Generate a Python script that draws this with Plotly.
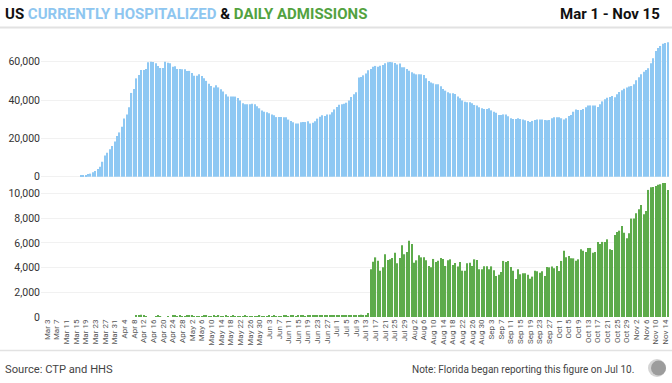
import pandas as pd
import plotly.graph_objects as go

# ---------------- data ----------------
dates = pd.date_range("2020-03-01", "2020-11-15", freq="D")

hospitalized = [None] * 16 + [
    700, 800, 900, 1400, 1600, 2300, 3000, 4000, 5200, 7800, 11000, 12500, 14300, 16000, 18300,
    21200, 23100, 26100, 30300, 32500, 36200, 43700, 45800, 51300, 53100, 55700, 55700, 56200,
    59700, 60000, 59900, 59200, 57800, 56700, 56700, 60000, 59500, 59200, 57300, 57600, 56200,
    56200, 56000, 56000, 55200, 55200, 54100, 52700, 52700, 53400, 52600, 51300, 50000, 48500,
    47300, 46600, 47700, 46600, 45600, 44400, 43000, 41800, 41800, 41900, 41800, 41100, 39800,
    38300, 37800, 37800, 37800,
    38100, 37800, 36700, 35700, 34600, 33900, 33600, 33100, 32500, 32000, 31100, 31100, 31100,
    31000, 31000, 29800, 29100, 28400, 27800, 27800, 28400, 28500, 28500, 28900, 27800, 28200,
    28900, 30300, 31300, 32000, 31700, 32500, 32500, 33600, 35100, 36400, 37600, 37800, 38100,
    38600, 39800, 41600, 43000, 44000, 51700, 52000, 52900, 53900, 55500, 56200, 57400, 57800,
    57400, 57900, 58300, 59200, 59700, 59900, 59700, 59300, 58600, 59000, 57100, 57100, 56200,
    55300, 54500, 53900, 53400, 53400, 53400, 53100, 51300, 49900, 49100, 48700, 48200, 48200,
    47200, 45800, 44900, 44000, 43500, 43600, 43200, 41800, 40900, 39800,
    39150, 38800, 38800, 38300, 37400, 37100, 36200, 35700, 35300, 35300, 35700, 34600, 33900,
    33400, 32200, 32200, 32500, 32500, 31500, 30500, 30100, 30100, 30500, 30100, 29900, 29400,
    29100, 28500, 29100, 29600, 29900, 29900, 29900, 29600, 29400, 29600, 30500, 31000, 31000,
    31000, 30500, 29900, 30500, 31700, 32200, 33900, 35000, 34800, 34800, 35300, 36200, 37100,
    37200, 37200, 37200, 36400, 37800, 39300, 40400, 41200, 41600, 42100, 41400, 43000, 44200,
    45100, 45900, 46600, 47000, 47300, 48200, 50300, 51900, 53400, 54800, 55700, 56600, 59200,
    61800, 65600, 67200, 68200, 69400, 69800, 70100,
]

admissions = [None] * 39 + [
    150, 120, 180, 90, 60,
    0, 0, 0,
    80, 100, 60,
    0, 0, 40, 0,
    90, 110, 70, 120, 80, 60, 100, 90, 130, 70, 50, 80,
    60, 90, 110, 80, 70, 100, 60, 90, 80, 70, 110, 60, 80, 90, 70,
    60, 80, 70, 90, 60, 50, 80, 70, 60, 90, 80, 70, 60, 100, 80, 90, 70, 60, 80, 90,
    100, 80, 90, 110, 70, 90, 100, 120, 80, 90, 110, 100, 90, 120, 110, 100, 130, 110, 100, 120,
    110, 130, 120, 140, 110, 150, 130, 140, 160, 150, 130, 180, 150, 130,
    320,
    3860, 4480, 4830, 4560, 3750, 4020, 5080, 4620, 4670, 4780,
    5210, 4350, 4780, 5800, 5080, 5270, 6180, 5910, 4400, 4590,
    5000, 4830, 4830, 4590, 4130, 4020, 4700, 4450, 4560, 4780,
    4700, 4130, 4590, 4670, 4210, 4370, 4080, 4450, 3750, 3750,
    4350, 4400, 4130, 4670, 4620, 3860, 3860, 4100, 4100, 3860,
    4100, 3780, 3320, 3430, 3650, 4540, 4450, 4540, 4050, 3750,
    3080, 3860, 3460, 3540, 3540, 3430,
    3100, 3270, 3750, 3700, 3590, 3700, 3320, 4050, 4020, 4080,
    3940, 4130, 3720, 4540, 5370, 4830, 4940, 4750, 4750, 4560,
    4670, 5480, 5370, 5270, 5590, 5590, 5210, 5270, 6080, 5910,
    6080, 6080, 6290, 5480, 5430, 6640, 6890, 6990, 7370, 6830,
    6370, 6780, 7970, 7970, 8400, 8720, 9070, 8320, 8590, 10290,
    10500, 10530, 10600, 10700, 10750, 10850, 10900, 10290,
]

tick_dates = list(dates[2::4])
tick_labels = [f"{d:%b} {d.day}" for d in tick_dates]
top_ticks = [0, 20000, 40000, 60000]
bottom_ticks = [0, 2000, 4000, 6000, 8000, 10000]

BLUE = "#8ec8f3"
GREEN = "#5dab4b"
TITLE_BLUE = "#8ec6f0"
TITLE_GREEN = "#52a23f"
FONT = "Roboto, 'Liberation Sans', sans-serif"

# ---------------- layout helpers (pixel -> paper) ----------------
W, H = 672, 383
L, R, T, B = 41, 3, 35, 66
PW, PH = W - L - R, H - T - B


def px(x):
    return (x - L) / PW


def py(y):
    return (H - B - y) / PH


fig = go.Figure()
fig.add_trace(go.Bar(x=dates, y=hospitalized, marker=dict(color=BLUE, line=dict(width=0)),
                     xaxis="x", yaxis="y", hoverinfo="x+y"))
fig.add_trace(go.Bar(x=dates, y=admissions, marker=dict(color=GREEN, line=dict(width=0)),
                     xaxis="x2", yaxis="y2", hoverinfo="x+y"))

xr = [dates[0] - pd.Timedelta(hours=12), dates[-1] + pd.Timedelta(hours=12)]
grid = "#f1f1f1"

fig.update_layout(
    width=W, height=H,
    margin=dict(l=L, r=R, t=T, b=B, autoexpand=False),
    paper_bgcolor="white", plot_bgcolor="white",
    showlegend=False, bargap=0.5,
    font=dict(family=FONT, color="#333"),
    xaxis=dict(domain=[0, 1], range=xr, anchor="y", showticklabels=False, showgrid=False,
               zeroline=False, showline=False, ticks=""),
    xaxis2=dict(domain=[0, 1], range=xr, anchor="y2", matches="x", tickmode="array",
                tickvals=tick_dates, ticktext=tick_labels, tickangle=-90,
                tickfont=dict(size=8, color="#555"), showgrid=False, zeroline=False,
                showline=False, ticks="", automargin=False),
    yaxis=dict(domain=[py(180), 1], range=[-1722, 73930], tickmode="array",
               tickvals=top_ticks, tickformat=",", tickfont=dict(size=10.5, color="#333"),
               gridcolor=grid, zeroline=False, showline=False, ticks="", automargin=False),
    yaxis2=dict(domain=[0, py(183)], range=[0, 10850], tickmode="array",
                tickvals=bottom_ticks, tickformat=",", tickfont=dict(size=10.5, color="#333"),
                gridcolor=grid, zeroline=False, showline=False, ticks="", automargin=False),
)

title_html = ("<b>US <span style='color:%s'>CURRENTLY HOSPITALIZED</span> &amp; "
              "<span style='color:%s'>DAILY ADMISSIONS</span></b>" % (TITLE_BLUE, TITLE_GREEN))

annotations = [
    dict(text=title_html, x=px(3), y=py(14), xref="paper", yref="paper", xanchor="left",
         yanchor="middle", showarrow=False, font=dict(size=15, color="#111", family=FONT)),
    dict(text="<b>Mar 1 - Nov 15</b>", x=px(662), y=py(14), xref="paper", yref="paper",
         xanchor="right", yanchor="middle", showarrow=False,
         font=dict(size=15, color="#111", family=FONT)),
    dict(text="Source: CTP and HHS", x=px(3), y=py(369), xref="paper", yref="paper",
         xanchor="left", yanchor="middle", showarrow=False,
         font=dict(size=11.2, color="#444", family=FONT)),
    dict(text="Note: Florida began reporting this figure on Jul 10.", x=px(636), y=py(369),
         xref="paper", yref="paper", xanchor="right", yanchor="middle", showarrow=False,
         font=dict(size=10, color="#444", family=FONT)),
]
fig.update_layout(annotations=annotations)

shapes = [
    dict(type="line", xref="paper", yref="paper", x0=px(0), x1=px(672), y0=py(27.5), y1=py(27.5),
         line=dict(color="#e2e2e2", width=2)),
    dict(type="line", xref="paper", yref="paper", x0=px(0), x1=px(672), y0=py(350.5), y1=py(350.5),
         line=dict(color="#e2e2e2", width=1.5)),
    dict(type="circle", xref="paper", yref="paper", xsizemode="pixel", ysizemode="pixel",
         xanchor=px(657), yanchor=py(368), x0=-9, x1=9, y0=-9, y1=9,
         fillcolor="#d4d4d4", line=dict(width=0)),
    dict(type="circle", xref="paper", yref="paper", xsizemode="pixel", ysizemode="pixel",
         xanchor=px(658.5), yanchor=py(368), x0=-7.5, x1=7.5, y0=-7.5, y1=7.5,
         fillcolor="#9c9c9c", line=dict(width=0)),
]
fig.update_layout(shapes=shapes)

fig.write_html("out.html", config={"displayModeBar": False},
               post_script="document.body.style.margin='0';document.body.style.overflow='hidden';")
